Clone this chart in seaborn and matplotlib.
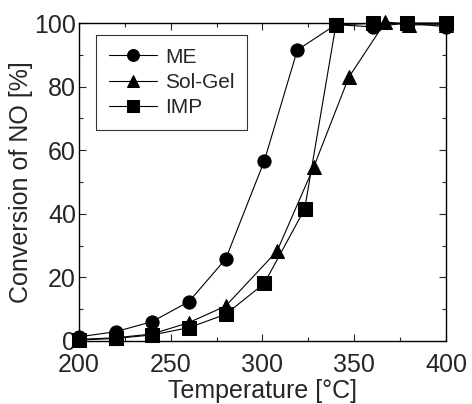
import pandas as pd
import matplotlib.pyplot as plt
import seaborn as sns
from matplotlib.ticker import MultipleLocator

# values
me_t = [200, 220, 240, 260, 280, 301, 319, 340, 360, 379, 400]
me_conv = [1.3, 2.9, 6.1, 12.4, 25.8, 56.6, 91.5, 99.5, 98.8, 100, 98.8]

solgel_t = [200, 220, 240, 260, 280, 308, 328, 347, 367, 380, 400]
solgel_conv = [0.5, 1.0, 2.2, 5.8, 11.0, 28.3, 54.8, 82.9, 100.4, 99.4, 99.5]

imp_t = [200, 220, 240, 260, 280, 301, 323, 340, 360, 379, 400]
imp_conv = [0.3, 0.8, 1.9, 4.2, 8.4, 18.1, 41.5, 99.4, 99.9, 100, 100]

df = pd.concat([
    pd.DataFrame({"T": me_t, "conv": me_conv, "cat": "ME"}),
    pd.DataFrame({"T": solgel_t, "conv": solgel_conv, "cat": "Sol-Gel"}),
    pd.DataFrame({"T": imp_t, "conv": imp_conv, "cat": "IMP"}),
])

sns.set_style("ticks")
plt.rcParams["font.family"] = ["Liberation Sans", "DejaVu Sans"]

fig = plt.figure(figsize=(4.72, 4.04), dpi=100)
ax = fig.add_axes([0.167, 0.156, 0.778, 0.787])

ax = sns.lineplot(data=df, x="T", y="conv", hue="cat", style="cat",
                  palette=["black"] * 3, markers=["o", "^", "s"], dashes=False,
                  markersize=9.5, linewidth=0.8, markeredgecolor="black",
                  clip_on=False, ax=ax, sort=False)

ax.set_xlim(200, 400)
ax.set_ylim(0, 100)
ax.xaxis.set_major_locator(MultipleLocator(50))
ax.xaxis.set_minor_locator(MultipleLocator(25))
ax.yaxis.set_major_locator(MultipleLocator(20))
ax.yaxis.set_minor_locator(MultipleLocator(10))
ax.tick_params(which="both", direction="in", top=True, right=True,
               labelsize=18, width=0.8)
ax.tick_params(axis="x", which="both", pad=9)
ax.tick_params(axis="y", which="both", pad=2)
ax.tick_params(which="major", length=5)
ax.tick_params(which="minor", length=3)
for s in ax.spines.values():
    s.set_linewidth(1.0)
    s.set_color("black")

ax.set_xlabel("Temperature [°C]", fontsize=18, labelpad=1)
ax.set_ylabel("Conversion of NO [%]", fontsize=18, labelpad=1)

leg = ax.legend(title=None, fontsize=15, loc="upper left",
                bbox_to_anchor=(0.048, 0.962), borderaxespad=0,
                frameon=True, fancybox=False, edgecolor="black",
                handlelength=2.3, borderpad=0.6, labelspacing=0.3,
                handletextpad=0.4, markerscale=0.9)
leg.get_frame().set_linewidth(0.8)

plt.savefig("out.png", dpi=100)
